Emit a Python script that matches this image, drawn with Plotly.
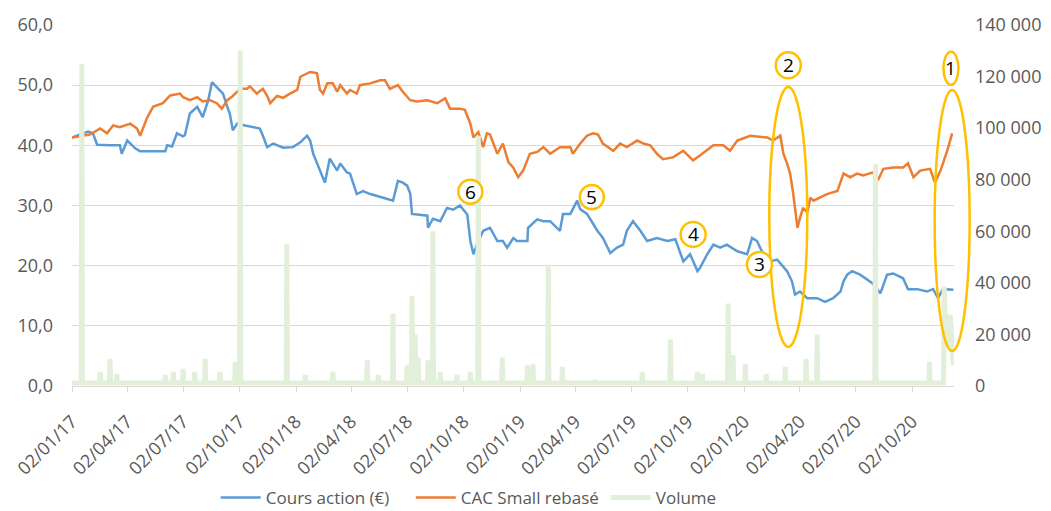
import pandas as pd
import plotly.graph_objects as go

# ---------------- data ----------------
price_dates = [
    "2017-01-02", "2017-01-15", "2017-01-28", "2017-02-05", "2017-02-12", "2017-03-05",
    "2017-03-21", "2017-03-24", "2017-04-02", "2017-04-15", "2017-04-23", "2017-06-03",
    "2017-06-06", "2017-06-14", "2017-06-22", "2017-07-02", "2017-07-05", "2017-07-13",
    "2017-07-25", "2017-08-03", "2017-08-12", "2017-08-18", "2017-08-26", "2017-09-05",
    "2017-09-12", "2017-09-16", "2017-09-21", "2017-09-28", "2017-10-11", "2017-10-27",
    "2017-11-04", "2017-11-09", "2017-11-16", "2017-11-26", "2017-12-12", "2017-12-28",
    "2018-01-09", "2018-01-20", "2018-01-25", "2018-01-30", "2018-02-10", "2018-02-18",
    "2018-02-26", "2018-03-10", "2018-03-15", "2018-03-26", "2018-03-31", "2018-04-11",
    "2018-04-21", "2018-05-03", "2018-05-24", "2018-06-09", "2018-06-17", "2018-06-25",
    "2018-07-02", "2018-07-07", "2018-07-10", "2018-07-23", "2018-08-04", "2018-08-05",
    "2018-08-13", "2018-08-25", "2018-09-05", "2018-09-15", "2018-09-26", "2018-10-08",
    "2018-10-13", "2018-10-18", "2018-10-24", "2018-11-03", "2018-11-14", "2018-11-26",
    "2018-12-05", "2018-12-12", "2018-12-22", "2018-12-28", "2019-01-14", "2019-01-15",
    "2019-01-30", "2019-02-09", "2019-02-20", "2019-03-08", "2019-03-13", "2019-03-25",
    "2019-04-05", "2019-04-10", "2019-04-21", "2019-04-26", "2019-05-08", "2019-05-17",
    "2019-05-29", "2019-06-09", "2019-06-19", "2019-06-25", "2019-07-05", "2019-07-17",
    "2019-07-28", "2019-08-13", "2019-08-30", "2019-09-12", "2019-09-20", "2019-09-25",
    "2019-10-06", "2019-10-18", "2019-10-22", "2019-11-03", "2019-11-13", "2019-11-24",
    "2019-12-05", "2019-12-22", "2020-01-07", "2020-01-15", "2020-01-23", "2020-01-31",
    "2020-02-14", "2020-02-25", "2020-03-12", "2020-03-20", "2020-03-25", "2020-04-02",
    "2020-04-14", "2020-04-30", "2020-05-13", "2020-05-26", "2020-06-07", "2020-06-12",
    "2020-06-18", "2020-06-26", "2020-07-09", "2020-07-21", "2020-07-29", "2020-08-11",
    "2020-08-22", "2020-09-01", "2020-09-17", "2020-09-25", "2020-10-10", "2020-10-26",
    "2020-11-05", "2020-11-13", "2020-11-21", "2020-12-08",
]
price_values = [
    41.3, 41.8, 42.3, 42.0, 40.1, 40.0,
    40.0, 38.6, 40.8, 39.5, 39.0, 39.0,
    40.0, 39.8, 42.0, 41.5, 41.7, 45.3,
    46.4, 44.7, 47.5, 50.5, 49.7, 48.6,
    46.4, 45.3, 42.5, 43.6, 43.3, 43.0,
    42.8, 41.6, 39.7, 40.3, 39.6, 39.7,
    40.5, 41.6, 40.8, 38.6, 35.8, 33.8,
    37.8, 35.8, 37.0, 35.5, 35.3, 31.9,
    32.4, 31.9, 31.3, 30.8, 34.1, 33.8,
    33.3, 32.0, 28.6, 28.5, 28.3, 26.3,
    27.8, 27.4, 29.6, 29.3, 30.0, 28.5,
    24.1, 21.9, 23.6, 25.8, 26.3, 24.1,
    24.1, 23.0, 24.6, 24.1, 24.1, 26.3,
    27.7, 27.4, 27.4, 25.8, 28.6, 28.6,
    30.8, 29.4, 28.6, 27.8, 25.8, 24.6,
    22.1, 23.0, 23.5, 25.8, 27.4, 25.8,
    24.1, 24.6, 24.1, 24.4, 22.1, 20.7,
    21.9, 19.1, 19.6, 21.9, 23.5, 23.0,
    23.5, 22.4, 21.9, 24.6, 24.1, 22.4,
    20.7, 21.0, 19.1, 17.4, 15.2, 15.7,
    14.6, 14.6, 14.0, 14.6, 15.7, 17.4,
    18.5, 19.1, 18.5, 17.7, 17.1, 15.4,
    18.5, 18.7, 17.9, 16.1, 16.1, 15.7,
    16.1, 14.6, 16.1, 16.0,
]

cac_dates = [
    "2017-01-02", "2017-01-15", "2017-01-31", "2017-02-17", "2017-02-28", "2017-03-10",
    "2017-03-21", "2017-04-07", "2017-04-18", "2017-04-23", "2017-05-04", "2017-05-14",
    "2017-05-30", "2017-06-11", "2017-06-27", "2017-07-02", "2017-07-13", "2017-07-25",
    "2017-08-03", "2017-08-15", "2017-08-26", "2017-09-03", "2017-09-12", "2017-09-21",
    "2017-10-03", "2017-10-14", "2017-10-19", "2017-10-30", "2017-11-09", "2017-11-16",
    "2017-11-21", "2017-12-02", "2017-12-12", "2017-12-23", "2018-01-04", "2018-01-09",
    "2018-01-25", "2018-02-05", "2018-02-10", "2018-02-15", "2018-02-22", "2018-03-03",
    "2018-03-10", "2018-03-15", "2018-03-26", "2018-03-31", "2018-04-11", "2018-04-16",
    "2018-05-03", "2018-05-19", "2018-05-27", "2018-06-04", "2018-06-17", "2018-06-25",
    "2018-07-07", "2018-07-18", "2018-08-04", "2018-08-20", "2018-09-02", "2018-09-10",
    "2018-09-26", "2018-10-04", "2018-10-13", "2018-10-18", "2018-10-26", "2018-11-03",
    "2018-11-09", "2018-11-14", "2018-11-26", "2018-12-05", "2018-12-14", "2018-12-22",
    "2018-12-30", "2019-01-07", "2019-01-18", "2019-01-30", "2019-02-09", "2019-02-20",
    "2019-03-08", "2019-03-25", "2019-03-29", "2019-04-10", "2019-04-21", "2019-05-01",
    "2019-05-09", "2019-05-17", "2019-06-03", "2019-06-14", "2019-06-25", "2019-07-12",
    "2019-07-22", "2019-08-02", "2019-08-13", "2019-08-23", "2019-09-08", "2019-09-25",
    "2019-10-11", "2019-10-22", "2019-11-13", "2019-11-29", "2019-12-10", "2019-12-22",
    "2020-01-12", "2020-02-09", "2020-02-18", "2020-03-01", "2020-03-06", "2020-03-12",
    "2020-03-17", "2020-03-22", "2020-03-29", "2020-04-02", "2020-04-07", "2020-04-14",
    "2020-04-19", "2020-04-24", "2020-05-05", "2020-05-16", "2020-06-02", "2020-06-12",
    "2020-06-23", "2020-07-04", "2020-07-14", "2020-07-30", "2020-08-08", "2020-08-16",
    "2020-09-01", "2020-09-17", "2020-09-25", "2020-10-04", "2020-10-15", "2020-10-31",
    "2020-11-08", "2020-11-17", "2020-11-28", "2020-12-06",
]
cac_values = [
    41.3, 41.5, 41.8, 42.8, 42.0, 43.3,
    43.0, 43.6, 42.8, 41.6, 44.5, 46.4,
    47.0, 48.3, 48.6, 48.0, 47.5, 48.0,
    47.3, 47.5, 47.0, 46.1, 47.5, 48.2,
    49.4, 49.4, 49.8, 48.6, 49.4, 48.2,
    47.0, 48.2, 47.9, 48.6, 49.2, 51.4,
    52.2, 52.0, 49.2, 48.6, 50.3, 50.3,
    48.9, 50.0, 48.6, 49.2, 48.6, 50.0,
    50.3, 50.8, 50.8, 49.4, 50.0, 48.9,
    47.5, 47.3, 47.5, 47.0, 47.8, 46.1,
    46.1, 45.9, 43.6, 41.3, 42.2, 39.7,
    42.0, 41.8, 38.6, 40.3, 37.2, 36.3,
    34.7, 35.8, 38.6, 38.9, 39.7, 38.6,
    39.7, 39.7, 38.6, 40.3, 41.6, 42.0,
    41.8, 40.3, 39.1, 40.3, 39.7, 40.8,
    40.3, 40.0, 38.6, 37.7, 38.0, 39.1,
    37.5, 38.3, 40.0, 40.0, 39.1, 40.8,
    41.6, 41.3, 40.8, 41.6, 38.6, 37.0,
    35.3, 32.0, 26.3, 27.9, 29.6, 28.8,
    31.3, 30.8, 31.3, 31.9, 32.4, 35.3,
    34.7, 35.3, 35.0, 35.5, 34.4, 36.1,
    36.3, 36.3, 37.0, 34.7, 35.8, 36.1,
    33.8, 35.8, 39.1, 42.0,
]

# daily volume: quiet days around each spike are listed explicitly
vol_dates = [
    "2017-01-02", "2017-01-17", "2017-01-18", "2017-01-19",
    "2017-02-16", "2017-02-17", "2017-02-18",
    "2017-03-04", "2017-03-05", "2017-03-06",
    "2017-03-15", "2017-03-16", "2017-03-17",
    "2017-06-02", "2017-06-03", "2017-06-04",
    "2017-06-15", "2017-06-16", "2017-06-17",
    "2017-07-01", "2017-07-02", "2017-07-03",
    "2017-07-20", "2017-07-21", "2017-07-22",
    "2017-08-06", "2017-08-07", "2017-08-08",
    "2017-08-30", "2017-08-31", "2017-09-01",
    "2017-09-24", "2017-09-25", "2017-09-26",
    "2017-10-02", "2017-10-03", "2017-10-04",
    "2017-12-17", "2017-12-18", "2017-12-19",
    "2018-01-16", "2018-01-17", "2018-01-18",
    "2018-03-02", "2018-03-03", "2018-03-04",
    "2018-04-27", "2018-04-28", "2018-04-29",
    "2018-05-15", "2018-05-16", "2018-05-17",
    "2018-06-08", "2018-06-09", "2018-06-10",
    "2018-07-01", "2018-07-02", "2018-07-03",
    "2018-07-09", "2018-07-10", "2018-07-11",
    "2018-07-14", "2018-07-15", "2018-07-16",
    "2018-07-19", "2018-07-20", "2018-07-21",
    "2018-08-04", "2018-08-05", "2018-08-06",
    "2018-08-12", "2018-08-13", "2018-08-14",
    "2018-08-24", "2018-08-25", "2018-08-26",
    "2018-09-20", "2018-09-21", "2018-09-22",
    "2018-10-12", "2018-10-13", "2018-10-14",
    "2018-10-25", "2018-10-26", "2018-10-27",
    "2018-12-03", "2018-12-04", "2018-12-05",
    "2019-01-13", "2019-01-14", "2019-01-15",
    "2019-01-22", "2019-01-23", "2019-01-24",
    "2019-02-16", "2019-02-17", "2019-02-18",
    "2019-03-11", "2019-03-12", "2019-03-13",
    "2019-05-03", "2019-05-04", "2019-05-05",
    "2019-07-19", "2019-07-20", "2019-07-21",
    "2019-09-03", "2019-09-04", "2019-09-05",
    "2019-10-17", "2019-10-18", "2019-10-19",
    "2019-10-25", "2019-10-26", "2019-10-27",
    "2019-12-06", "2019-12-07", "2019-12-08",
    "2019-12-14", "2019-12-15", "2019-12-16",
    "2020-01-03", "2020-01-04", "2020-01-05",
    "2020-02-06", "2020-02-07", "2020-02-08",
    "2020-03-08", "2020-03-09", "2020-03-10",
    "2020-04-11", "2020-04-12", "2020-04-13",
    "2020-04-29", "2020-04-30", "2020-05-01",
    "2020-08-02", "2020-08-03", "2020-08-04",
    "2020-10-29", "2020-10-30", "2020-10-31",
    "2020-11-22", "2020-11-23", "2020-11-25", "2020-11-28", "2020-12-01",
    "2020-12-03", "2020-12-06", "2020-12-08",
]
vol_values = [
    1200, 1200, 125000, 1200,
    1200, 5500, 1200,
    1200, 10500, 1200,
    1200, 4700, 1200,
    1200, 4300, 1200,
    1200, 5500, 1200,
    1200, 6600, 1200,
    1200, 5500, 1200,
    1200, 10500, 1200,
    1200, 5500, 1200,
    1200, 9400, 1200,
    1200, 130000, 1200,
    1200, 55000, 1200,
    1200, 4300, 1200,
    1200, 5500, 1200,
    1200, 10000, 1200,
    1200, 4300, 1200,
    1200, 28000, 1200,
    1200, 8000, 1200,
    1200, 35000, 1200,
    1200, 20000, 1200,
    1200, 11000, 1200,
    1200, 10000, 1200,
    1200, 60000, 1200,
    1200, 5500, 1200,
    1200, 4300, 1200,
    1200, 5500, 1200,
    1200, 97000, 1200,
    1200, 11000, 1200,
    1200, 8000, 1200,
    1200, 8500, 1200,
    1200, 47000, 1200,
    1200, 7400, 1200,
    1200, 2300, 1200,
    1200, 5500, 1200,
    1200, 18000, 1200,
    1200, 5500, 1200,
    1200, 4700, 1200,
    1200, 32000, 1200,
    1200, 12000, 1200,
    1200, 8600, 1200,
    1200, 4700, 1200,
    1200, 7400, 1200,
    1200, 10500, 1200,
    1200, 20000, 1200,
    1200, 86000, 1200,
    1200, 9400, 1200,
    1200, 38600, 25000, 15000, 20000,
    27700, 15000, 8000,
]

# numbered call-outs: label, date, value (left axis), width px, height px
callout_labels = ["1", "2", "3", "4", "5", "6"]
callout_dates = ["2020-12-04", "2020-03-14", "2020-01-27", "2019-10-11", "2019-04-29", "2018-10-13"]
callout_values = [52.8, 53.3, 20.2, 25.2, 31.4, 32.3]
callout_w = [15, 25, 25, 25, 24, 24]
callout_h = [33, 26, 25, 25, 24, 24]

# large ellipses around the two highlighted periods
ellipse_dates = ["2020-03-14", "2020-12-06"]
ellipse_values = [28.1, 27.5]
ellipse_w = [38, 35]
ellipse_h = [260, 261]

X_START, X_END = "2017-01-02", "2020-12-09"
Y_MAX, Y2_MAX = 60, 140000

BLUE = "#5B9BD5"
ORANGE = "#ED7D31"
GREEN = "#E2EFDA"
GOLD = "#FFC000"
GRID = "#D9D9D9"
TXT = "#595959"
FONT = "Open Sans"


def xfrac(d):
    t0, t1 = pd.Timestamp(X_START), pd.Timestamp(X_END)
    return (pd.Timestamp(d) - t0) / (t1 - t0)


fig = go.Figure()
fig.add_trace(go.Scatter(x=price_dates, y=price_values, name="Cours action (€)",
                         mode="lines", line=dict(color=BLUE, width=2.5)))
fig.add_trace(go.Scatter(x=cac_dates, y=cac_values, name="CAC Small rebasé",
                         mode="lines", line=dict(color=ORANGE, width=2.5)))
fig.add_trace(go.Scatter(x=vol_dates, y=vol_values, name="Volume", yaxis="y2",
                         mode="lines", line=dict(color=GREEN, width=5)))

shapes = []
for d, v, w, h in zip(ellipse_dates, ellipse_values, ellipse_w, ellipse_h):
    shapes.append(dict(type="circle", xref="paper", yref="paper", xsizemode="pixel", ysizemode="pixel",
                       xanchor=xfrac(d), yanchor=v / Y_MAX, x0=-w / 2, x1=w / 2, y0=-h / 2, y1=h / 2,
                       line=dict(color=GOLD, width=2.5), fillcolor="rgba(0,0,0,0)", layer="above"))
annotations = []
for lab, d, v, w, h in zip(callout_labels, callout_dates, callout_values, callout_w, callout_h):
    shapes.append(dict(type="circle", xref="paper", yref="paper", xsizemode="pixel", ysizemode="pixel",
                       xanchor=xfrac(d), yanchor=v / Y_MAX, x0=-w / 2, x1=w / 2, y0=-h / 2, y1=h / 2,
                       line=dict(color=GOLD, width=2.5), fillcolor="white", layer="above"))
    annotations.append(dict(x=xfrac(d), y=v / Y_MAX, xref="paper", yref="paper", text=lab,
                            showarrow=False, font=dict(family=FONT, size=19, color="black"),
                            xanchor="center", yanchor="middle"))

fig.update_layout(
    width=1051, height=511,
    margin=dict(l=72, r=97, t=25, b=125, autoexpand=False),
    paper_bgcolor="white", plot_bgcolor="white",
    separators=", ",
    font=dict(family=FONT, size=18, color=TXT),
    showlegend=True,
    legend=dict(orientation="h", x=0.163, xanchor="left", y=-0.31, yanchor="middle",
                font=dict(family=FONT, size=17, color=TXT), itemwidth=40, entrywidth=140),
    xaxis=dict(type="date", range=[X_START, X_END], tick0=X_START, dtick="M3",
               tickformat="%d/%m/%y", tickangle=-45, ticks="outside", ticklen=5, tickcolor=GRID,
               showline=True, linecolor=GRID, linewidth=1, showgrid=False, zeroline=False,
               automargin=False, ticklabelstandoff=12,
               tickfont=dict(family=FONT, size=18, color=TXT)),
    yaxis=dict(range=[0, Y_MAX], dtick=10, tickformat=".1f", showgrid=True, gridcolor=GRID,
               gridwidth=1, zeroline=False, showline=False, ticklabelstandoff=18, automargin=False,
               tickfont=dict(family=FONT, size=18, color=TXT)),
    yaxis2=dict(range=[0, Y2_MAX], dtick=20000, tickformat=",d", overlaying="y", side="right",
                showgrid=False, zeroline=False, showline=False, ticklabelstandoff=20, automargin=False,
                tickfont=dict(family=FONT, size=18, color=TXT)),
    shapes=shapes,
    annotations=annotations,
)

fig.write_html("out.html", config={"displayModeBar": False},
               post_script="document.body.style.margin='0';")
